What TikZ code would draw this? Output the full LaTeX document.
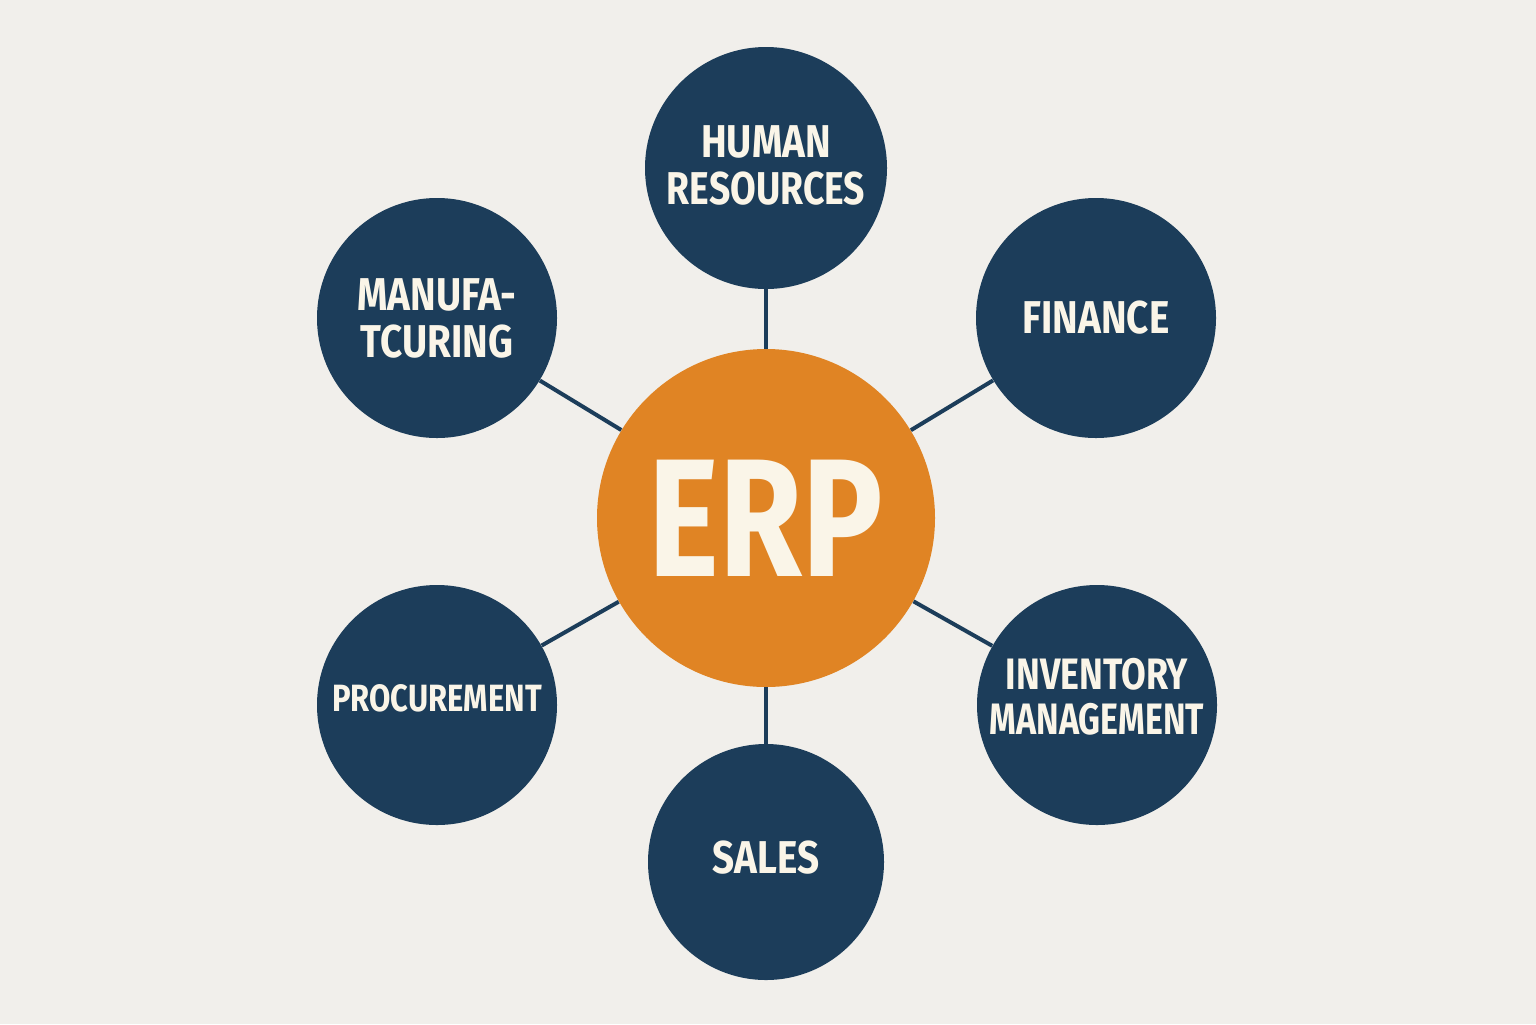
\documentclass[tikz,border=0pt]{standalone}
\usepackage{fontspec}
\usepackage{graphicx}
\newfontfamily\satfont[FakeStretch=0.84]{Fira Sans Bold}
\newfontfamily\erpfont[FakeStretch=0.80]{Fira Sans Bold}
\newcommand{\sqz}[2]{\scalebox{#1}[1]{#2}}
\definecolor{bg}{HTML}{F1EFEB}
\definecolor{navy}{HTML}{1C3D5A}
\definecolor{erporange}{HTML}{E08424}
\definecolor{cream}{HTML}{FAF5E8}
\tikzset{
  sat/.style={circle, fill=navy, minimum size=120pt, inner sep=0pt},
  satlabel/.style={text=cream, align=center, inner sep=0pt,
    font=\satfont\fontsize{23}{23.5}\selectfont},
  hub/.style={circle, fill=erporange, minimum size=169pt, inner sep=0pt, text=cream,
    font=\erpfont\fontsize{84}{84}\selectfont},
  link/.style={draw=navy, line width=2pt}
}
\begin{document}
\begin{tikzpicture}[x=0.5pt,y=-0.5pt]
\fill[bg] (0,0) rectangle (1536,1024);
\useasboundingbox (0,0) rectangle (1536,1024);
\node[hub] (erp) at (766,518) {ERP};
\node[sat, minimum size=121pt, label={[satlabel, yshift=1.5pt]center:HUMAN\\\sqz{0.965}{RESOURCES}}] (hr) at (766,168) {};
\node[sat, label={[satlabel]center:FINANCE}] (fin) at (1096,318) {};
\node[sat, label={[satlabel]center:MANUFA-\\TCURING}] (man) at (437,318) {};
\node[sat, label={[satlabel, yshift=3.5pt, font=\satfont\fontsize{19}{19}\selectfont]center:\sqz{0.97}{PROCUREMENT}}] (pro) at (437,705) {};
\node[sat, label={[satlabel, yshift=4pt, font=\satfont\fontsize{22}{22.5}\selectfont]center:\sqz{0.97}{INVENTORY}\\\sqz{0.92}{MANAGEMENT}}] (inv) at (1097,705) {};
\node[sat, minimum size=118pt, label={[satlabel, yshift=2pt]center:SALES}] (sal) at (766,862) {};
\foreach \n in {hr,fin,man,pro,inv,sal}
  \draw[link] (erp) -- (\n);
\end{tikzpicture}
\end{document}
